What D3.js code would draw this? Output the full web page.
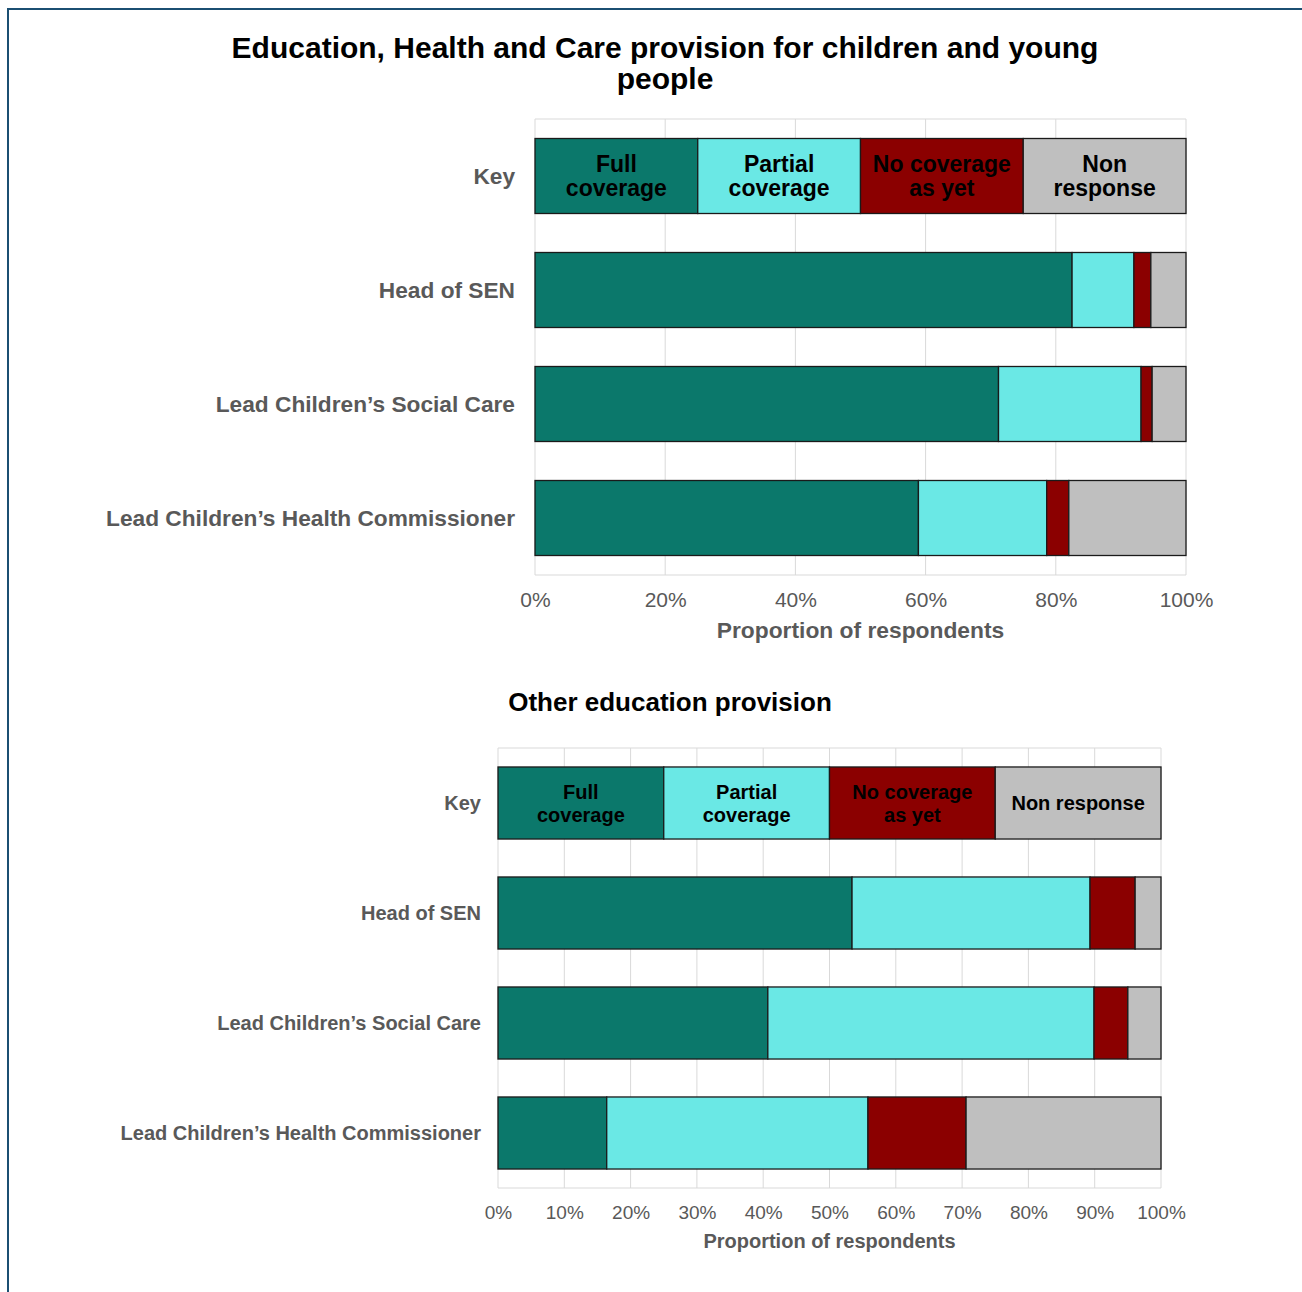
<!DOCTYPE html>
<html><head><meta charset="utf-8">
<script src="https://cdn.jsdelivr.net/npm/d3@7"></script>
<style>
html,body{margin:0;padding:0;background:#fff;}
svg{display:block;font-family:"Liberation Sans",Arial,sans-serif;}
</style></head>
<body>
<svg id="chart" width="1302" height="1292"></svg>
<script>
// ---- data ----
const seriesNames = ["Full coverage","Partial coverage","No coverage as yet","Non response"];
const seriesColors = ["#0b786b","#6ae8e5","#8b0000","#bfbfbf"];
const categories = ["Key","Head of SEN","Lead Children\u2019s Social Care","Lead Children\u2019s Health Commissioner"];
const keyValues = [25,25,25,25];

const ehcFull = [82.5, 71.2, 58.9];
const ehcPartial = [9.5, 21.9, 19.7];
const ehcNone = [2.6, 1.7, 3.4];
const ehcNonResponse = [5.4, 5.2, 18.0];

const otherFull = [53.4, 40.7, 16.4];
const otherPartial = [35.9, 49.2, 39.4];
const otherNone = [6.8, 5.1, 14.8];
const otherNonResponse = [3.9, 5.0, 29.4];

const ticksTop = [0,20,40,60,80,100];
const ticksBottom = [0,10,20,30,40,50,60,70,80,90,100];

const keyLabelsTop = [["Full","coverage"],["Partial","coverage"],["No coverage","as yet"],["Non","response"]];
const keyLabelsBottom = [["Full","coverage"],["Partial","coverage"],["No coverage","as yet"],["Non response"]];

const svg = d3.select("#chart");

// frame
svg.append("rect").attr("x",8).attr("y",9).attr("width",1320).attr("height",1320)
  .attr("fill","none").attr("stroke","#1b4f72").attr("stroke-width",2);

function drawChart(cfg){
  const rows = [keyValues].concat(cfg.full.map((d,i)=>[cfg.full[i],cfg.partial[i],cfg.none[i],cfg.nr[i]]));
  const data = categories.map((c,i)=>({cat:c, vals:rows[i]}));
  const x = d3.scaleLinear().domain([0,100]).range([cfg.x0,cfg.x1]);
  const y = d3.scaleBand().domain(categories).range([cfg.y0,cfg.y1]).paddingInner(cfg.pad).paddingOuter(cfg.pad/2);
  const g = svg.append("g");

  // title
  const t = g.append("text").attr("text-anchor","middle").attr("font-weight","bold")
    .attr("font-size",cfg.titleSize).attr("fill","#000");
  cfg.title.forEach((line,i)=>{
    t.append("tspan").attr("x",cfg.titleX).attr("y",cfg.titleY + i*cfg.titleLH).text(line);
  });

  // gridlines
  g.append("g").selectAll("line").data(cfg.ticks).join("line")
    .attr("x1",d=>x(d)).attr("x2",d=>x(d)).attr("y1",cfg.y0).attr("y2",cfg.y1)
    .attr("stroke","#d9d9d9").attr("stroke-width",1);
  g.append("line").attr("x1",cfg.x0).attr("x2",cfg.x1).attr("y1",cfg.y0).attr("y2",cfg.y0)
    .attr("stroke","#d9d9d9");
  g.append("line").attr("x1",cfg.x0).attr("x2",cfg.x1).attr("y1",cfg.y1).attr("y2",cfg.y1)
    .attr("stroke","#d9d9d9");

  // bars
  const stack = d3.stack().keys([0,1,2,3]).value((d,k)=>d.vals[k]);
  const layers = stack(data);
  layers.forEach((layer,k)=>{
    g.append("g").selectAll("rect").data(layer).join("rect")
      .attr("x",d=>x(d[0])).attr("width",d=>x(d[1])-x(d[0]))
      .attr("y",d=>y(d.data.cat)).attr("height",y.bandwidth())
      .attr("fill",seriesColors[k]).attr("stroke","#1a1a1a").attr("stroke-width",1.3);
  });

  // key labels
  const keyY = y("Key") + y.bandwidth()/2;
  cfg.keyLabels.forEach((lines,k)=>{
    const cx = (x(d3.sum(keyValues.slice(0,k))) + x(d3.sum(keyValues.slice(0,k+1))))/2;
    const tt = g.append("text").attr("text-anchor","middle").attr("font-weight","bold")
      .attr("font-size",cfg.keySize).attr("fill","#000");
    lines.forEach((ln,i)=>{
      const off = (i - (lines.length-1)/2) * cfg.keyLH;
      tt.append("tspan").attr("x",cx).attr("y",keyY+off).attr("dy","0.35em").text(ln);
    });
  });

  // category labels
  g.append("g").selectAll("text").data(categories).join("text")
    .attr("x",cfg.x0 - cfg.labelGap).attr("y",d=>y(d)+y.bandwidth()/2).attr("dy","0.35em")
    .attr("text-anchor","end").attr("font-weight","bold").attr("font-size",cfg.catSize)
    .attr("fill","#595959").text(d=>d);

  // x axis ticks
  const ax = d3.axisBottom(x).tickValues(cfg.ticks).tickFormat(d=>d+"%").tickSize(0).tickPadding(0);
  const axg = g.append("g").attr("transform",`translate(0,${cfg.tickY})`).call(ax);
  axg.select(".domain").remove();
  axg.selectAll("text").attr("font-size",cfg.tickSize).attr("fill","#595959")
    .attr("font-family","'Liberation Sans',Arial,sans-serif").attr("dy","0");

  g.append("text").attr("x",(cfg.x0+cfg.x1)/2).attr("y",cfg.axisTitleY).attr("text-anchor","middle")
    .attr("font-weight","bold").attr("font-size",cfg.axisTitleSize).attr("fill","#595959")
    .text("Proportion of respondents");
}

drawChart({
  title:["Education, Health and Care provision for children and young","people"],
  titleX:665, titleY:58, titleLH:31, titleSize:30,
  x0:535, x1:1186, y0:119, y1:575, pad:0.342,
  full:ehcFull, partial:ehcPartial, none:ehcNone, nr:ehcNonResponse,
  ticks:ticksTop, keyLabels:keyLabelsTop, keySize:23, keyLH:24,
  catSize:22.7, labelGap:20, tickY:607, tickSize:21, axisTitleY:638, axisTitleSize:22.8
});

drawChart({
  title:["Other education provision"],
  titleX:670, titleY:711, titleLH:30, titleSize:26,
  x0:498, x1:1161, y0:748, y1:1188, pad:0.345,
  full:otherFull, partial:otherPartial, none:otherNone, nr:otherNonResponse,
  ticks:ticksBottom, keyLabels:keyLabelsBottom, keySize:20, keyLH:23,
  catSize:20, labelGap:17, tickY:1219, tickSize:19, axisTitleY:1248, axisTitleSize:20
});
</script>
</body></html>
